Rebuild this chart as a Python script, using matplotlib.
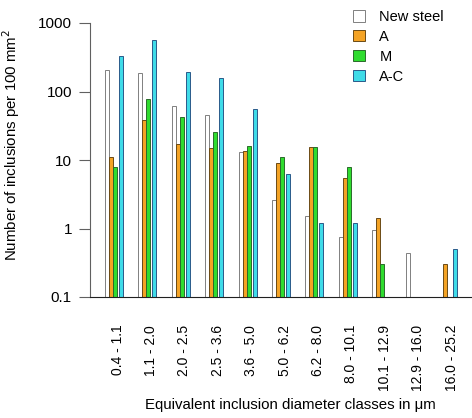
import numpy as np
import matplotlib
matplotlib.use('Agg')
import matplotlib.pyplot as plt

plt.rcParams['font.family'] = ['Liberation Sans', 'DejaVu Sans']

classes = ['0.4 - 1.1', '1.1 - 2.0', '2.0 - 2.5', '2.5 - 3.6', '3.6 - 5.0', '5.0 - 6.2',
           '6.2 - 8.0', '8.0 - 10.1', '10.1 - 12.9', '12.9 - 16.0', '16.0 - 25.2']
new_steel = [205, 185, 61, 46, 13, 2.6, 1.5, 0.75, 0.95, 0.44, np.nan]
steel_a   = [11, 38, 17, 14.8, 13.5, 9.0, 15.5, 5.5, 1.4, np.nan, 0.3]
steel_m   = [7.9, 78, 42, 25.5, 16, 11, 15.5, 7.9, 0.3, np.nan, np.nan]
steel_ac  = [330, 560, 190, 160, 55, 6.3, 1.22, 1.22, np.nan, np.nan, 0.51]

fig = plt.figure(figsize=(4.72, 4.18), dpi=100)
ax = fig.add_axes([90/472, 1-297/418, 382/472, 274/418])

w = 0.12
x = np.arange(len(classes))
series = [(new_steel, 0.0, 'white', '#808080', 'New steel'),
          (steel_a, 1.0, '#F4A325', '#6b4a16', 'A'),
          (steel_m, 2.0, '#2fdc2f', '#2a6a2a', 'M'),
          (steel_ac, 3.5, '#3fdbe8', '#2a5a8a', 'A-C')]
for vals, k, fc, ec, lab in series:
    ax.bar(x + k*w + w/2, vals, width=w, color=fc, edgecolor=ec, linewidth=0.7, label=lab)

ax.set_yscale('log')
ax.set_ylim(0.1, 1000)
ax.set_xlim(-0.45, 10.99)
ax.set_yticks([0.1, 1, 10, 100, 1000])
ax.set_yticklabels(['0.1', '1', '10', '100', '1000'], fontsize=11)
ax.minorticks_off()
ax.tick_params(axis='y', length=8, width=0.8, color='#606060', pad=5)
ax.set_xticks(x + 0.38)
ax.set_xticklabels(classes, rotation=90, fontsize=10, va='top')
ax.tick_params(axis='x', length=0, pad=20)

ax.spines['top'].set_visible(False)
ax.spines['right'].set_visible(False)
ax.spines['left'].set_color('#606060')
ax.spines['bottom'].set_color('#202020')

ax.set_ylabel('Number of inclusions per 100 mm$^2$', fontsize=10.8)
ax.yaxis.set_label_coords(-0.178, 0.555)
fig.text(290/472, 1-405/418, 'Equivalent inclusion diameter classes in \u03bcm',
         ha='center', va='center', fontsize=10.8)

leg = ax.legend(loc='upper left', bbox_to_anchor=(250/382, 1.095), frameon=False,
                fontsize=10.5, handlelength=0.8, handleheight=0.8, labelspacing=0.4,
                handletextpad=1.0)

plt.savefig('out.png', dpi=100)
